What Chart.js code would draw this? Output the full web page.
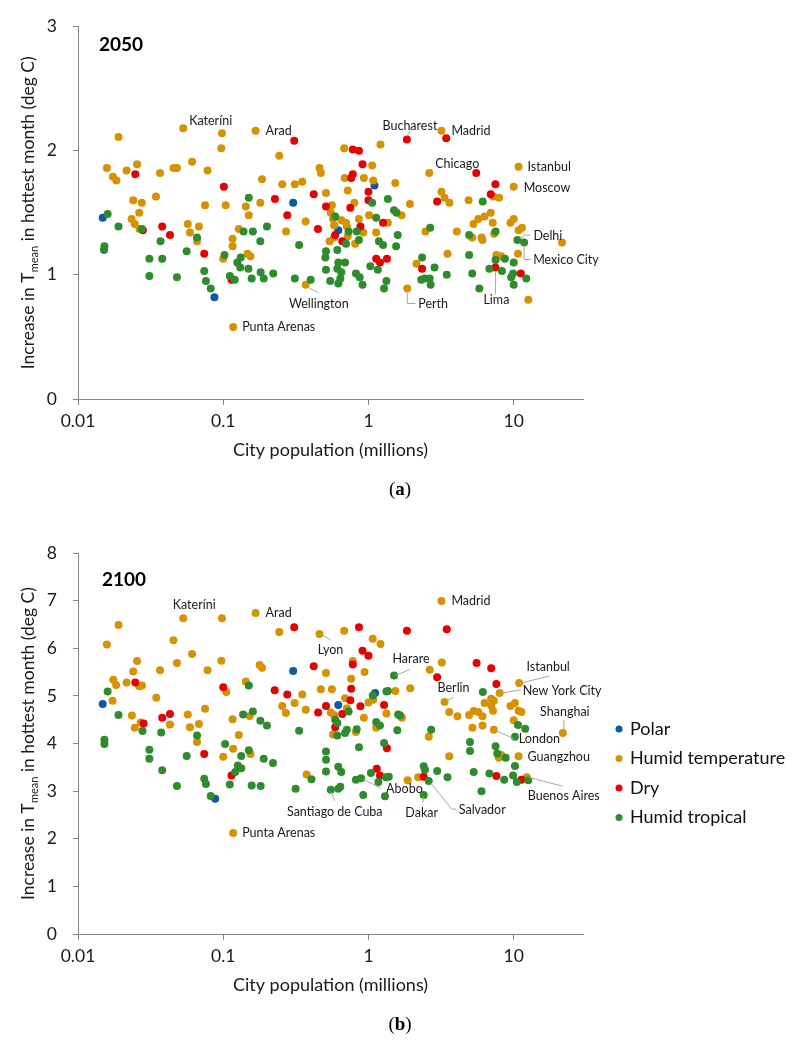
<!DOCTYPE html>
<html>
<head>
<meta charset="utf-8">
<script src="https://cdn.jsdelivr.net/npm/chart.js@4.4.1/dist/chart.umd.min.js"></script>
<style>
  body { margin: 0; background: #fff; }
  canvas { display: block; }
</style>
</head>
<body>
<canvas id="chart2050" width="800" height="525"></canvas>
<canvas id="chart2100" width="800" height="524"></canvas>
<script>
// ---- data (population in millions, temperature increase in deg C) ----
const seriesNames = ['Polar', 'Humid temperature', 'Dry', 'Humid tropical'];
const xTickValues = [0.01, 0.1, 1, 10];
const yTicks2050 = [0, 1, 2, 3];
const yTicks2100 = [0, 1, 2, 3, 4, 5, 6, 7, 8];

// 2050
const pop2050Polar = [0.0148, 0.303, 0.087, 0.62, 1.1];
const temp2050Polar = [1.46, 1.58, 0.82, 1.36, 1.72];

const pop2050Temperate = [
  0.053, 0.098, 0.167, 0.019, 0.097, 0.243, 0.68, 1.21, 0.0158, 0.0216,
  0.0255, 0.0174, 0.0184, 0.0367, 0.0454, 0.048, 0.061, 0.078, 0.185, 0.255,
  0.311, 0.35, 0.46, 0.47, 0.51, 1.06, 0.686, 0.93, 1.08, 0.72,
  0.0344, 0.024, 0.0275, 0.0234, 0.0246, 0.0264, 0.0265, 0.057, 0.059, 0.068,
  0.066, 0.075, 0.104, 0.116, 0.116, 0.1, 0.128, 0.143, 0.15, 0.18,
  0.147, 0.154, 0.271, 0.369, 0.56, 0.37, 0.55, 0.57, 0.58, 0.58,
  0.54, 0.65, 0.70, 0.71, 0.72, 0.80, 0.86, 0.81, 0.92, 1.01,
  1.13, 0.117, 1.53, 1.93, 2.62, 3.18, 3.18, 3.34, 3.61, 4.89,
  10.8, 10.0, 1.69, 1.36, 2.47, 4.06, 5.18, 6.0, 6.1, 5.28,
  5.7, 6.29, 6.95, 7.17, 7.33, 9.5, 10.0, 10.8, 11.4, 21.5,
  10.7, 7.6, 8.2, 3.5, 2.14, 1.85, 12.6, 7.24, 7.93
];
const temp2050Temperate = [
  2.18, 2.14, 2.16, 2.11, 2.02, 1.96, 2.02, 2.05, 1.86, 1.84,
  1.89, 1.79, 1.76, 1.82, 1.86, 1.86, 1.91, 1.84, 1.77, 1.73,
  1.73, 1.75, 1.86, 1.82, 1.66, 1.88, 1.78, 1.78, 1.76, 1.68,
  1.63, 1.60, 1.58, 1.45, 1.41, 1.50, 1.37, 1.41, 1.34, 1.39,
  1.27, 1.56, 1.56, 1.29, 1.23, 1.13, 1.37, 1.55, 1.48, 1.58,
  1.17, 1.15, 1.35, 1.43, 1.56, 0.92, 1.50, 1.45, 1.40, 1.30,
  1.27, 1.44, 1.42, 1.39, 1.31, 1.58, 1.45, 1.25, 1.34, 1.48,
  1.34, 0.58, 1.74, 1.57, 1.82, 2.16, 1.67, 1.62, 1.58, 1.60,
  1.87, 1.71, 1.48, 1.42, 1.35, 1.35, 1.30, 1.30, 1.28, 1.41,
  1.45, 1.47, 1.50, 1.42, 1.33, 1.42, 1.45, 1.36, 1.38, 1.26,
  1.17, 1.16, 1.15, 1.17, 1.09, 0.89, 0.80, 1.63, 1.62
];

const pop2050Dry = [
  0.308, 0.78, 0.86, 0.0248, 0.101, 0.42, 0.227, 0.91, 0.76, 0.78,
  1.0, 0.028, 0.038, 0.043, 0.074, 0.114, 0.276, 0.449, 0.51, 0.59,
  0.66, 0.75, 0.88, 1.0, 1.26, 1.13, 1.2, 1.34, 1.84, 3.43,
  5.52, 2.97, 7.48, 6.95, 7.48, 2.34, 11.2
];
const temp2050Dry = [
  2.08, 2.01, 2.00, 1.81, 1.71, 1.65, 1.61, 1.89, 1.78, 1.81,
  1.67, 1.36, 1.39, 1.32, 1.17, 0.96, 1.48, 1.37, 1.55, 1.32,
  1.27, 1.54, 1.39, 1.60, 1.42, 1.13, 1.10, 1.13, 2.09, 2.10,
  1.82, 1.59, 1.73, 1.65, 1.06, 1.05, 1.01
];

const pop2050Tropical = [
  0.15, 0.016, 0.019, 0.0275, 0.037, 0.031, 0.038, 0.031, 0.048, 0.0152,
  0.0151, 0.066, 0.056, 0.074, 0.076, 0.082, 0.102, 0.138, 0.16, 0.2,
  0.18, 0.125, 0.132, 0.131, 0.149, 0.111, 0.12, 0.157, 0.181, 0.19,
  0.221, 0.333, 0.311, 0.40, 0.51, 0.505, 0.51, 0.545, 0.59, 0.61,
  0.62, 0.69, 0.61, 0.65, 0.64, 0.62, 0.73, 0.83, 0.70, 0.86,
  0.82, 0.87, 0.91, 1.06, 1.13, 1.18, 1.26, 1.03, 1.16, 1.28,
  1.33, 1.36, 1.50, 1.56, 1.59, 1.55, 2.66, 4.93, 6.12, 7.5,
  10.6, 11.8, 10.0, 9.9, 9.6, 10.0, 12.2, 8.7, 7.5, 6.8,
  8.3, 5.8, 5.18, 4.93, 3.46, 2.34, 2.85, 2.31, 2.44, 2.64,
  2.68
];
const temp2050Tropical = [
  1.62, 1.49, 1.39, 1.37, 1.27, 1.13, 1.13, 0.99, 0.98, 1.23,
  1.20, 1.30, 1.19, 1.03, 0.95, 0.89, 1.16, 1.35, 1.35, 1.39,
  1.27, 1.10, 1.14, 1.06, 1.05, 0.99, 0.96, 0.97, 1.02, 0.97,
  1.01, 1.24, 0.97, 0.96, 1.19, 1.14, 1.04, 0.95, 1.47, 1.20,
  1.10, 1.10, 1.05, 1.02, 0.97, 0.93, 1.35, 1.35, 1.25, 1.28,
  1.01, 0.98, 0.92, 1.58, 1.46, 1.27, 1.24, 1.07, 1.04, 0.89,
  0.95, 1.61, 1.52, 1.50, 1.32, 1.23, 1.38, 1.32, 1.59, 1.35,
  1.28, 1.26, 1.10, 1.01, 0.98, 0.92, 0.97, 1.13, 1.12, 1.05,
  1.03, 0.89, 1.01, 1.16, 1.00, 1.14, 1.06, 0.96, 0.97, 0.97,
  0.92
];

// 2100
const pop2100Polar = [0.0148, 0.303, 0.088, 0.62, 1.11];
const temp2100Polar = [4.83, 5.52, 2.84, 4.81, 5.06];

const pop2100Temperate = [
  0.053, 0.098, 0.167, 0.019, 0.0158, 0.0454, 0.061, 0.0255, 0.048, 0.097,
  0.0367, 0.078, 0.024, 0.243, 0.46, 0.68, 1.07, 1.21, 0.178, 0.185,
  0.51, 0.78, 0.94, 0.0175, 0.0183, 0.0216, 0.0264, 0.0276, 0.0173, 0.105,
  0.143, 0.0346, 0.075, 0.35, 0.255, 0.27, 0.31, 0.37, 0.47, 0.56,
  0.69, 0.76, 1.0, 1.08, 0.55, 0.58, 0.71, 1.33, 0.116, 0.043,
  0.057, 0.0235, 0.027, 0.0246, 0.059, 0.068, 0.066, 0.152, 0.128, 0.117,
  0.1, 0.154, 0.375, 0.57, 0.82, 0.93, 1.13, 0.117, 3.18, 3.2,
  2.64, 10.9, 8.0, 1.94, 1.53, 3.34, 7.0, 7.3, 7.0, 7.2,
  6.3, 9.5, 10.2, 10.8, 11.3, 3.6, 4.1, 4.93, 5.3, 5.7,
  6.1, 10.0, 5.2, 6.1, 7.3, 21.8, 10.8, 1.7, 2.6, 3.6,
  7.9, 8.2, 1.86, 2.2, 12.3
];
const temp2100Temperate = [
  6.63, 6.63, 6.74, 6.49, 6.08, 6.17, 5.88, 5.73, 5.69, 5.74,
  5.54, 5.54, 5.51, 6.34, 6.30, 6.37, 6.20, 6.09, 5.65, 5.59,
  5.48, 5.73, 5.50, 5.34, 5.23, 5.28, 5.20, 5.22, 4.90, 5.08,
  5.30, 4.96, 4.73, 5.03, 4.79, 4.64, 4.85, 4.71, 5.14, 5.14,
  4.95, 5.36, 4.86, 4.92, 4.65, 4.60, 4.74, 4.63, 4.51, 4.40,
  4.61, 4.59, 4.44, 4.33, 4.34, 4.41, 4.03, 4.58, 4.18, 3.89,
  3.72, 3.78, 3.35, 4.19, 4.24, 4.54, 4.33, 2.12, 6.99, 5.70,
  5.55, 5.27, 5.06, 5.16, 5.10, 4.87, 4.94, 4.90, 4.80, 4.69,
  4.85, 4.79, 4.85, 4.69, 4.66, 4.66, 4.57, 4.60, 4.68, 4.66,
  4.57, 4.49, 4.33, 4.38, 4.29, 4.22, 3.73, 4.54, 4.14, 3.73,
  3.70, 3.76, 3.23, 3.29, 3.29
];

const pop2100Dry = [
  0.308, 0.86, 0.91, 1.0, 0.42, 0.78, 0.0248, 0.1, 0.226, 0.276,
  0.45, 0.51, 0.76, 0.75, 0.88, 1.28, 0.66, 0.038, 0.043, 0.0283,
  0.074, 0.114, 0.59, 1.34, 1.14, 1.2, 1.84, 3.46, 2.97, 5.55,
  7.0, 7.6, 2.4, 7.6, 11.3
];
const temp2100Dry = [
  6.44, 6.44, 5.95, 5.84, 5.62, 5.66, 5.28, 5.18, 5.12, 5.03,
  4.65, 4.79, 5.15, 4.91, 4.78, 4.81, 4.62, 4.54, 4.62, 4.42,
  3.78, 3.33, 4.34, 3.90, 3.47, 3.33, 6.37, 6.40, 5.39, 5.69,
  5.58, 5.25, 3.30, 3.32, 3.24
];

const pop2100Tropical = [
  0.016, 0.15, 0.137, 0.16, 0.019, 1.07, 1.33, 0.73, 0.0278, 0.0374,
  0.066, 0.0152, 0.0152, 0.031, 0.031, 0.038, 0.056, 0.048, 0.074, 0.076,
  0.082, 0.18, 0.2, 0.103, 0.133, 0.15, 0.19, 0.22, 0.126, 0.133,
  0.121, 0.111, 0.157, 0.181, 0.333, 0.315, 0.405, 0.59, 0.61, 0.61,
  0.69, 0.71, 0.83, 0.86, 0.51, 0.51, 0.51, 0.62, 0.65, 0.55,
  0.62, 0.64, 0.82, 0.89, 0.92, 1.04, 1.13, 1.2, 1.28, 1.17,
  1.3, 1.32, 1.5, 1.36, 1.6, 1.65, 1.58, 2.7, 6.13, 10.7,
  12.0, 10.2, 5.0, 5.0, 7.5, 7.7, 8.8, 10.2, 1.38, 2.4,
  2.45, 2.97, 2.6, 2.4, 3.5, 5.3, 6.0, 6.8, 8.6, 9.9,
  10.5, 12.6
];
const temp2100Tropical = [
  5.09, 5.22, 4.61, 4.67, 4.60, 5.01, 5.09, 4.67, 4.26, 4.23,
  4.17, 4.08, 3.99, 3.87, 3.68, 3.44, 3.74, 3.11, 3.26, 3.15,
  2.90, 4.48, 4.38, 3.99, 3.74, 3.86, 3.68, 3.59, 3.54, 3.48,
  3.40, 3.14, 3.12, 3.11, 4.27, 3.05, 3.25, 4.50, 4.43, 4.17,
  4.22, 4.29, 4.30, 3.92, 3.83, 3.66, 3.41, 3.51, 3.40, 3.03,
  3.05, 3.09, 3.24, 3.27, 2.92, 3.38, 4.45, 4.38, 4.01, 3.19,
  2.89, 3.29, 5.43, 5.10, 4.61, 4.59, 4.28, 4.29, 5.08, 4.39,
  4.31, 4.14, 4.03, 3.84, 3.94, 3.79, 3.70, 3.53, 3.30, 3.52,
  3.45, 3.42, 3.21, 2.92, 3.29, 3.40, 3.00, 3.37, 3.24, 3.33,
  3.19, 3.23
];

// labelled cities (values taken from the series above)
const cityNames2050 = ['Kateríni', 'Arad', 'Bucharest', 'Madrid', 'Chicago', 'Istanbul', 'Moscow',
  'Delhi', 'Mexico City', 'Lima', 'Perth', 'Wellington', 'Punta Arenas'];
const cityPop2050 = [0.053, 0.167, 1.84, 3.18, 2.62, 10.8, 10.0, 10.6, 11.8, 7.48, 1.85, 0.37, 0.117];
const cityTemp2050 = [2.18, 2.16, 2.09, 2.16, 1.82, 1.87, 1.71, 1.28, 1.26, 1.06, 0.89, 0.92, 0.58];

const cityNames2100 = ['Kateríni', 'Arad', 'Lyon', 'Madrid', 'Harare', 'Berlin', 'Istanbul', 'New York City',
  'Shanghai', 'London', 'Guangzhou', 'Buenos Aires', 'Abobo', 'Dakar', 'Salvador', 'Santiago de Cuba', 'Punta Arenas'];
const cityPop2100 = [0.053, 0.167, 0.46, 3.18, 1.5, 3.34, 10.9, 8.0, 21.8, 7.3, 10.8, 12.3, 0.89, 2.4, 2.6, 0.55, 0.117];
const cityTemp2100 = [6.63, 6.74, 6.30, 6.99, 5.43, 4.87, 5.27, 5.06, 4.22, 4.29, 3.73, 3.29, 3.27, 2.92, 3.21, 3.03, 2.12];

// ---- look ----
const seriesColors = ['#0B5AA6', '#D69200', '#E60000', '#2E8B2E'];
const axisGray = '#868686';

// label offsets from their point, in pixels
const place2050 = [
  { dx: 6, dy: -7 },
  { dx: 10, dy: 0 },
  { dx: 3, dy: -14, align: 'center', leader: [[0, -3], [3, -8]] },
  { dx: 10, dy: 0 },
  { dx: 6, dy: -9 },
  { dx: 9, dy: 0 },
  { dx: 10, dy: 1 },
  { dx: 16, dy: -4, leader: [[3, -2], [8, -5], [13, -5]] },
  { dx: 9, dy: 17, leader: [[0, 4], [0, 17], [7, 17]] },
  { dx: 1, dy: 33, align: 'center', leader: [[0, 4], [0, 27]] },
  { dx: 11, dy: 15, leader: [[0, 4], [0, 15], [8, 15]] },
  { dx: 13, dy: 19, align: 'center', leader: [[3, 3], [13, 8]] },
  { dx: 9, dy: 0 }
];
const place2100 = [
  { dx: 11, dy: -13, align: 'center' },
  { dx: 10, dy: 0 },
  { dx: 11, dy: 16, align: 'center', leader: [[3, 1], [11, 6]] },
  { dx: 10, dy: 0 },
  { dx: 17, dy: -16, align: 'center', leader: [[2, 0], [16, -6]] },
  { dx: 9, dy: -14, align: 'center', leader: [[2, -1], [9, -5]] },
  { dx: 29, dy: -16, align: 'center', leader: [[2, 0], [30, -7]] },
  { dx: 23, dy: -2, leader: [[2, 0], [21, -3]] },
  { dx: 2, dy: -21, align: 'center', leader: [[1, -3], [1, -13]] },
  { dx: 25, dy: 9, leader: [[2, 1], [20, 9]] },
  { dx: 9, dy: 1 },
  { dx: 37, dy: 19, align: 'center', leader: [[2, 0], [36, 9]] },
  { dx: 25, dy: 11, leader: [[2, 1], [20, 10]] },
  { dx: -2, dy: 18, align: 'center', leader: [[0, 2], [-1, 8]] },
  { dx: 30, dy: 29, leader: [[2, 2], [23, 28], [28, 28]] },
  { dx: 4, dy: 22, align: 'center', leader: [[0, 2], [4, 11]] },
  { dx: 9, dy: 0 }
];

function toPoints(pops, temps) {
  return pops.map(function (p, i) { return { x: p, y: temps[i] }; });
}

// titles, city labels, panel letters and the legend
const figureText = {
  id: 'figureText',
  afterDatasetsDraw: function (chart, args, o) {
    const ctx = chart.ctx;
    const xs = chart.scales.x, ys = chart.scales.y, a = chart.chartArea;
    ctx.save();

    // city labels
    ctx.font = '12.5px Lato';
    ctx.textBaseline = 'middle';
    o.names.forEach(function (name, i) {
      const px = xs.getPixelForValue(o.pops[i]);
      const py = ys.getPixelForValue(o.temps[i]);
      const s = o.place[i];
      if (s.leader) {
        ctx.strokeStyle = '#A6A6A6';
        ctx.lineWidth = 1;
        ctx.beginPath();
        s.leader.forEach(function (pt, k) {
          if (k === 0) ctx.moveTo(px + pt[0], py + pt[1]);
          else ctx.lineTo(px + pt[0], py + pt[1]);
        });
        ctx.stroke();
      }
      ctx.fillStyle = '#1a1a1a';
      ctx.textAlign = s.align || 'left';
      ctx.fillText(name, px + s.dx, py + s.dy);
    });

    // year
    ctx.fillStyle = '#000';
    ctx.font = 'bold 19px Lato';
    ctx.textAlign = 'left';
    ctx.fillText(o.year, o.yearAt[0], o.yearAt[1]);

    // x title
    ctx.fillStyle = '#1a1a1a';
    ctx.font = '18px Lato';
    ctx.textAlign = 'center';
    ctx.fillText('City population (millions)', (a.left + a.right) / 2, a.bottom + 51);

    // y title with subscript
    ctx.save();
    ctx.translate(28, (a.top + a.bottom) / 2);
    ctx.rotate(-Math.PI / 2);
    ctx.textBaseline = 'alphabetic';
    ctx.textAlign = 'left';
    const p1 = 'Increase in T', p2 = 'mean', p3 = ' in hottest month (deg C)';
    ctx.font = '17.5px Lato';
    const w1 = ctx.measureText(p1).width, w3 = ctx.measureText(p3).width;
    ctx.font = '11px Lato';
    const w2 = ctx.measureText(p2).width;
    let x0 = -(w1 + w2 + w3) / 2;
    ctx.font = '17.5px Lato';
    ctx.fillText(p1, x0, 6);
    x0 += w1;
    ctx.font = '11px Lato';
    ctx.fillText(p2, x0, 9.5);
    x0 += w2;
    ctx.font = '17.5px Lato';
    ctx.fillText(p3, x0, 6);
    ctx.restore();

    // panel letter "(a)" / "(b)"
    ctx.fillStyle = '#000';
    ctx.textAlign = 'left';
    ctx.textBaseline = 'middle';
    const fr = '19px "Liberation Serif"', fb = 'bold 19px "Liberation Serif"';
    ctx.font = fr;
    const wp = ctx.measureText('(').width;
    ctx.font = fb;
    const wl = ctx.measureText(o.panel).width;
    let lx = 400 - (2 * wp + wl) / 2;
    ctx.font = fr; ctx.fillText('(', lx, o.panelY); lx += wp;
    ctx.font = fb; ctx.fillText(o.panel, lx, o.panelY); lx += wl;
    ctx.font = fr; ctx.fillText(')', lx, o.panelY);

    // legend
    if (o.legend) {
      ctx.font = '18px Lato';
      ctx.textAlign = 'left';
      chart.data.datasets.forEach(function (ds, i) {
        const ly = o.legend.top + i * o.legend.gap;
        ctx.fillStyle = ds.backgroundColor;
        ctx.beginPath();
        ctx.arc(o.legend.x, ly, 3.5, 0, 2 * Math.PI);
        ctx.fill();
        ctx.fillStyle = '#111';
        ctx.fillText(ds.label, o.legend.x + 11, ly);
      });
    }
    ctx.restore();
  }
};

function makeChart(id, series, yMax, yTicks, text, padTop, padBottom) {
  const ctx = document.getElementById(id).getContext('2d');
  const datasets = series.map(function (s, i) {
    return {
      label: seriesNames[i],
      data: toPoints(s[0], s[1]),
      backgroundColor: seriesColors[i],
      borderWidth: 0,
      pointRadius: 4,
      order: 3 - i
    };
  });
  return new Chart(ctx, {
    type: 'scatter',
    data: { datasets: datasets },
    plugins: [figureText],
    options: {
      responsive: false,
      animation: false,
      events: [],
      layout: { padding: { top: padTop, left: 0, right: 217, bottom: padBottom } },
      plugins: {
        legend: { display: false },
        tooltip: { enabled: false },
        figureText: text
      },
      scales: {
        x: {
          type: 'logarithmic',
          min: 0.01,
          max: 30,
          afterBuildTicks: function (s) { s.ticks = xTickValues.map(function (v) { return { value: v }; }); },
          afterFit: function (s) { s.height = 60; },
          grid: { drawOnChartArea: false, drawTicks: true, tickLength: 6, color: axisGray },
          border: { display: true, color: axisGray },
          ticks: {
            autoSkip: false, maxRotation: 0, padding: 6, color: '#1a1a1a',
            font: { family: 'Lato', size: 17.5 },
            callback: function (v) { return String(v); }
          }
        },
        y: {
          min: 0,
          max: yMax,
          afterBuildTicks: function (s) { s.ticks = yTicks.map(function (v) { return { value: v }; }); },
          afterFit: function (s) { s.width = 78; },
          grid: { drawOnChartArea: false, drawTicks: true, tickLength: 5, color: axisGray },
          border: { display: true, color: axisGray },
          ticks: {
            padding: 16, color: '#1a1a1a',
            font: { family: 'Lato', size: 17.5 },
            callback: function (v) { return String(v); }
          }
        }
      }
    }
  });
}

function createCharts() {
  makeChart('chart2050', [
    [pop2050Polar, temp2050Polar],
    [pop2050Temperate, temp2050Temperate],
    [pop2050Dry, temp2050Dry],
    [pop2050Tropical, temp2050Tropical]
  ], 3, yTicks2050, {
    names: cityNames2050, pops: cityPop2050, temps: cityTemp2050, place: place2050,
    year: '2050', yearAt: [99, 45], panel: 'a', panelY: 490, legend: null
  }, 20, 66);

  makeChart('chart2100', [
    [pop2100Polar, temp2100Polar],
    [pop2100Temperate, temp2100Temperate],
    [pop2100Dry, temp2100Dry],
    [pop2100Tropical, temp2100Tropical]
  ], 8, yTicks2100, {
    names: cityNames2100, pops: cityPop2100, temps: cityTemp2100, place: place2100,
    year: '2100', yearAt: [102, 55], panel: 'b', panelY: 500,
    legend: { x: 619, top: 204, gap: 29.5 }
  }, 28, 55);
}

window.addEventListener('load', function () {
  Promise.all([
    document.fonts.load('16px Lato'),
    document.fonts.load('bold 19px Lato'),
    document.fonts.load('19px "Liberation Serif"')
  ]).then(createCharts, createCharts);
});
</script>
</body>
</html>
